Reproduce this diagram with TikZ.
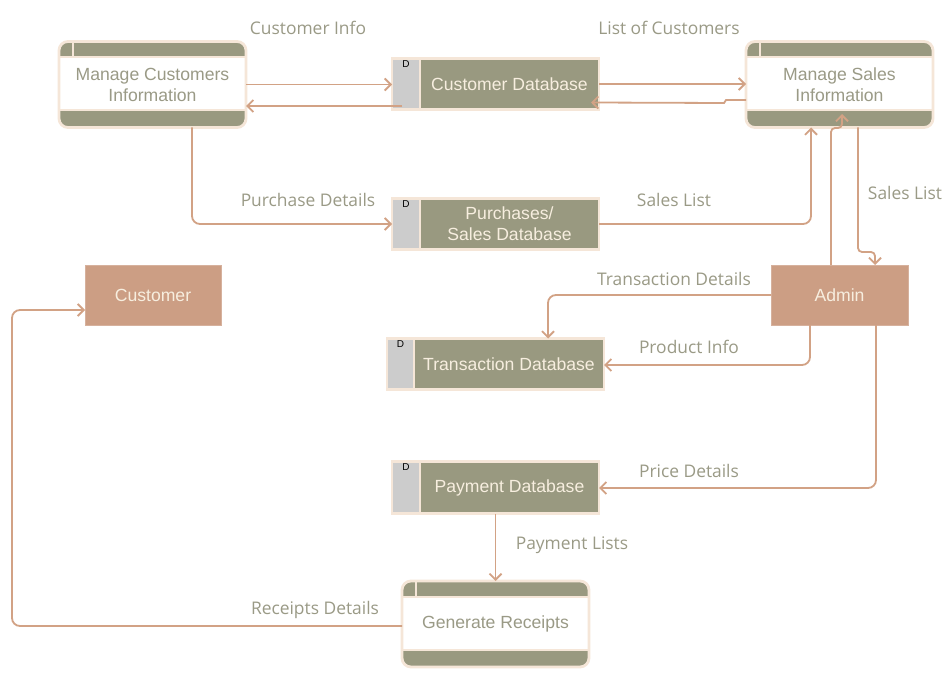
\documentclass[tikz,border=0pt]{standalone}
\usepackage{fontspec}
\setmainfont{Open Sans}
\newfontfamily\arialf{Liberation Sans}
\usetikzlibrary{arrows.meta,calc}
\definecolor{olivebg}{HTML}{999980}
\definecolor{cream}{HTML}{F5E6D8}
\definecolor{graypart}{HTML}{CCCCCC}
\definecolor{tanbox}{HTML}{CC9E84}
\definecolor{conn}{HTML}{D2A285}
\definecolor{txt}{HTML}{9A9A86}
\definecolor{dbtxt}{HTML}{F7EEDF}
\newcommand{\nodef}{\arialf\fontsize{17.6}{21}\selectfont}
\newcommand{\labf}{\fontsize{17.4}{20}\selectfont}
\begin{document}
\begin{tikzpicture}[x=1pt,y=-1pt,
 proc/.style={rounded corners=9pt, draw=cream, line width=2.8pt, fill=white,
  minimum width=187pt, minimum height=86pt, inner sep=0pt, outer sep=0pt,
  align=center, text=txt, font=\nodef,
  path picture={
   \fill[olivebg, sharp corners] (path picture bounding box.north west) rectangle ([yshift=-16pt]path picture bounding box.north east);
   \fill[olivebg, sharp corners] (path picture bounding box.south west) rectangle ([yshift=17pt]path picture bounding box.south east);
   \draw[cream, line width=2pt, sharp corners] ([yshift=-16pt]path picture bounding box.north west) -- ([yshift=-16pt]path picture bounding box.north east);
   \draw[cream, line width=2pt, sharp corners] ([yshift=17pt]path picture bounding box.south west) -- ([yshift=17pt]path picture bounding box.south east);
   \draw[cream, line width=2pt, sharp corners] ([xshift=14pt]path picture bounding box.north west) -- ([xshift=14pt,yshift=-16pt]path picture bounding box.north west);
  }},
 dbgray/.style={draw=cream, line width=2.8pt, fill=graypart, minimum width=28pt, minimum height=51pt, inner sep=0pt, outer sep=0pt},
 dbmain/.style={draw=cream, line width=2.8pt, fill=olivebg, minimum width=179pt, minimum height=51pt, inner sep=0pt, outer sep=0pt, align=center, text=dbtxt, font=\nodef},
 dmark/.style={font=\arialf\fontsize{10}{11}\selectfont, text=black, inner sep=0pt},
 ext/.style={draw=tanbox!80!white, line width=0.8pt, fill=tanbox, minimum width=136pt, minimum height=60pt, inner sep=0pt, outer sep=0pt, text=dbtxt, font=\nodef},
 flow/.style={draw=conn, line width=1.8pt, -{Straight Barb[length=6pt,width=12pt]}},
 lab/.style={text=txt, font=\labf, inner sep=0pt, text height=12.4pt, text depth=0pt}
]
\useasboundingbox[fill=white] (0,0) rectangle (951,695);

% processes
\node[proc] (mc) at (152.5,84.5) {Manage Customers\\Information};
\node[proc] (ms) at (839.5,84.5) {Manage Sales\\Information};
\node[proc] (gr) at (495.5,624) {Generate Receipts};

% data stores
\node[dbgray] (cdbg) at (406,84) {};
\node[dbmain] (cdb) at (509.5,84) {Customer Database};
\node[dmark] (cdbd) at (406,64) {D};

\node[dbgray] (pdbg) at (406,224) {};
\node[dbmain] (pdb) at (509.5,224) {Purchases/\\Sales Database};
\node[dmark] (pdbd) at (406,204) {D};

\node[dbgray, minimum width=27pt] (tdbg) at (400.5,364) {};
\node[dbmain, minimum width=190pt] (tdb) at (509,364) {Transaction Database};
\node[dmark] (tdbd) at (400.5,344) {D};

\node[dbgray, minimum height=52pt] (paydbg) at (406,487.5) {};
\node[dbmain, minimum height=52pt] (pay) at (509.5,487.5) {Payment Database};
\node[dmark] (paydbd) at (406,467) {D};

% externals
\node[ext] (cust) at (153,295) {Customer};
\node[ext, minimum width=137pt] (admin) at (839.5,295) {Admin};

% connectors
\draw[flow] (mc.east) -- (cdbg.west |- mc.east);
\coordinate (a2) at ($(cdbg.west)+(10,22)$);
\draw[flow] (a2) -- (a2 -| mc.east);
\draw[flow] (cdb.east) -- (ms.west |- cdb.east);
\draw[flow] ($(ms.west)+(0,15.5)$) -- ($(ms.west)+(-20,15.5)$) -- ($(ms.west)+(-22,18.5)$) -- ($(cdb.east)+(-8,18.5)$);

\coordinate (a5) at ($(mc.south)+(39.5,0)$);
\draw[flow, rounded corners=8pt] (a5) -- (a5 |- pdbg.west) -- (pdbg.west);

\coordinate (a6) at ($(ms.south)+(-28.5,0)$);
\draw[flow, rounded corners=8pt] (pdb.east) -- (pdb.east -| a6) -- (a6);

\coordinate (a7) at ($(admin.north)+(-8.5,0)$);
\draw[flow, rounded corners=4pt] (a7) -- ($(a7)+(0,-137)$) -- ($(a7)+(11,-137)$) -- ($(a7)+(11,-151)$);

\coordinate (a8) at ($(ms.south)+(18.5,0)$);
\coordinate (a8b) at ($(admin.north)+(35.5,0)$);
\draw[flow, rounded corners=4pt] (a8) -- ($(a8)+(0,124.5)$) -- ($(a8)+(17,124.5)$) -- (a8b);

\coordinate (a9) at ($(tdb.north)+(39,0)$);
\draw[flow, rounded corners=8pt] (admin.west) -- (a9 |- admin.west) -- (a9);

\coordinate (a10) at ($(admin.south)+(-29.5,0)$);
\draw[flow, rounded corners=8pt] (a10) -- ($(a10 |- tdb.east)+(0,1)$) -- ($(tdb.east)+(0,1)$);

\coordinate (a11) at ($(admin.south)+(36.5,0)$);
\draw[flow, rounded corners=8pt] (a11) -- ($(a11 |- pay.east)+(0,0.5)$) -- ($(pay.east)+(0,0.5)$);

\draw[flow] (gr.north |- pay.south) -- (gr.north);

\coordinate (a13) at ($(cust.west)+(0,15)$);
\draw[flow, rounded corners=8pt] ($(gr.west)+(0,2)$) -| ($(a13)+(-73,0)$) -- (a13);

% labels
\node[lab] (l1) at (308,28.5) {Customer Info};
\node[lab] (l2) at (669,28.5) {List of Customers};
\node[lab] (l3) at (308,200.5) {Purchase Details};
\node[lab] (l4) at (674,200.5) {Sales List};
\node[lab] (l5) at (905,193.5) {Sales List};
\node[lab] (l6) at (674,279.5) {Transaction Details};
\node[lab] (l7) at (689,347.5) {Product Info};
\node[lab] (l8) at (689,471.5) {Price Details};
\node[lab] (l9) at (572,543.5) {Payment Lists};
\node[lab] (l10) at (315,608.5) {Receipts Details};
\end{tikzpicture}
\end{document}
